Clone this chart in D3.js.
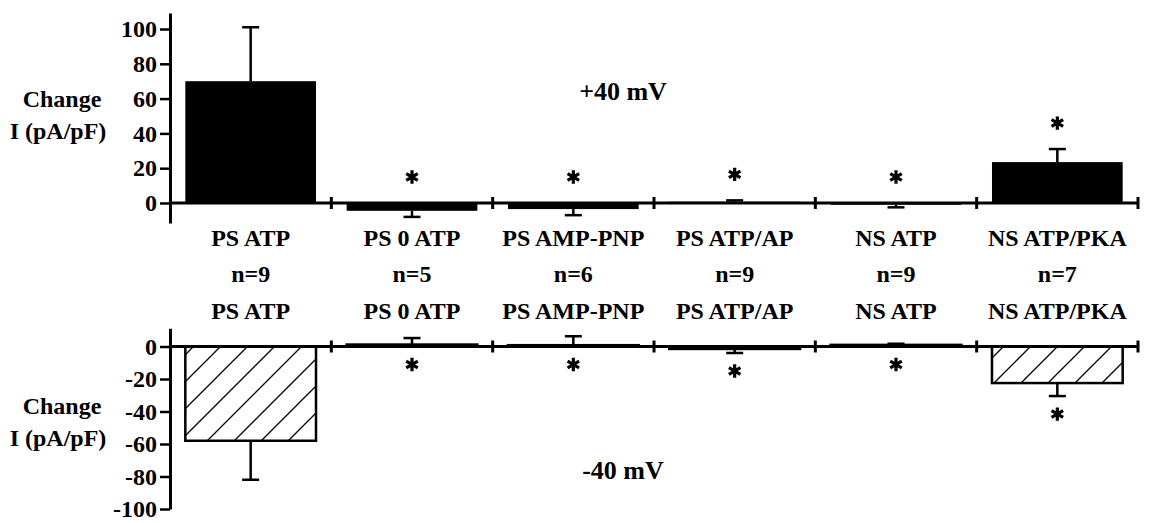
<!DOCTYPE html>
<html>
<head>
<meta charset="utf-8">
<script src="https://cdn.jsdelivr.net/npm/d3@7"></script>
<style>
  body { margin: 0; background: #fff; }
  svg text {
    font-family: "Liberation Serif", "Times New Roman", serif;
    font-weight: bold;
    font-size: 24px;
    fill: #000;
  }
  svg text.volt { font-size: 26px; }
</style>
</head>
<body>
<svg id="chart" width="1162" height="523"></svg>
<script>
// categories shared by both panels, and the n for each
const categories = ["PS ATP", "PS 0 ATP", "PS AMP-PNP", "PS ATP/AP", "NS ATP", "NS ATP/PKA"];
const nLabels = ["n=9", "n=5", "n=6", "n=9", "n=9", "n=7"];

// +40 mV panel: mean change and error (pA/pF)
const posMeans = [70, -4.5, -3.5, 0.7, -1, 23.5];
const posErrors = [31, 3.5, 3.5, 0.8, 1.5, 7.5];
const posStars = [false, true, true, true, true, true];
const posTicks = [0, 20, 40, 60, 80, 100];

// -40 mV panel
const negMeans = [-58, 1.2, 0.8, -1.5, 1, -22.5];
const negErrors = [24, 4, 5.5, 2.5, 0.7, 8];
const negStars = [false, true, true, true, true, true];
const negTicks = [0, -20, -40, -60, -80, -100];

const svg = d3.select("#chart");
svg.append("rect").attr("width", 1162).attr("height", 523).attr("fill", "#fff");

// hatch for the -40 mV bars
svg.append("defs").append("pattern")
  .attr("id", "hatch")
  .attr("patternUnits", "userSpaceOnUse")
  .attr("width", 27).attr("height", 27)
  .append("path")
  .attr("d", "M-7,7L7,-7M0,27L27,0M20,34L34,20")
  .attr("stroke", "#000")
  .attr("stroke-width", 1.3);

const x = d3.scaleBand()
  .domain(categories)
  .range([170, 1138])
  .paddingInner(0.19)
  .paddingOuter(0.095);

/**
 * draws one panel: axes, bars, error bars, stars and titles
 */
function drawPanel(p) {
  const g = svg.append("g");
  const y = d3.scaleLinear().domain(p.domain).range(p.range);
  const y0 = y(0);
  const rows = categories.map((c, i) => ({
    cat: c, mean: p.means[i], err: p.errors[i], star: p.stars[i]
  }));

  // bars
  g.selectAll("rect.bar").data(rows).join("rect")
    .attr("class", "bar")
    .attr("x", d => x(d.cat))
    .attr("width", x.bandwidth())
    .attr("y", d => Math.min(y(d.mean), y0))
    .attr("height", d => Math.abs(y(d.mean) - y0))
    .attr("fill", p.fill)
    .attr("stroke", p.outline ? "#000" : "none")
    .attr("stroke-width", 2.5);

  // error bars point away from zero
  const tip = d => d.mean + Math.sign(d.mean) * d.err;
  const cx = d => x(d.cat) + x.bandwidth() / 2;
  g.selectAll("line.err").data(rows).join("line")
    .attr("x1", cx).attr("x2", cx)
    .attr("y1", d => y(d.mean)).attr("y2", d => y(tip(d)))
    .attr("stroke", "#000").attr("stroke-width", 2.5);
  g.selectAll("line.cap").data(rows).join("line")
    .attr("x1", d => cx(d) - 8.5).attr("x2", d => cx(d) + 8.5)
    .attr("y1", d => y(tip(d))).attr("y2", d => y(tip(d)))
    .attr("stroke", "#000").attr("stroke-width", 2.5);

  // significance stars
  const star = d3.symbol(d3.symbolAsterisk, 125);
  g.selectAll("path.star").data(rows.filter(d => d.star)).join("path")
    .attr("d", star)
    .attr("transform", d => {
      const sy = p.up ? y(Math.max(tip(d), 0)) - 26 : y(Math.min(tip(d), 0)) + 18;
      return `translate(${cx(d)},${sy})`;
    })
    .attr("fill", "none").attr("stroke", "#000").attr("stroke-width", 3.2);

  // y axis
  const ax = g.append("g")
    .attr("transform", "translate(170,0)")
    .call(d3.axisLeft(y).tickValues(p.ticks).tickFormat(d => String(d))
      .tickSize(10).tickSizeOuter(0).tickPadding(3));
  ax.attr("font-family", null).attr("font-size", null);
  ax.select(".domain").attr("stroke-width", 3);
  ax.selectAll(".tick line").attr("stroke-width", 2.5);

  // x axis line with category dividers
  g.append("line")
    .attr("x1", 170).attr("x2", x.range()[1])
    .attr("y1", y0).attr("y2", y0)
    .attr("stroke", "#000").attr("stroke-width", 3);
  const dividers = d3.range(1, categories.length + 1).map(i => x.range()[0] + i * x.step());
  g.selectAll("line.div").data(dividers).join("line")
    .attr("x1", d => d).attr("x2", d => d)
    .attr("y1", y0 - 6).attr("y2", y0 + 6)
    .attr("stroke", "#000").attr("stroke-width", 3);

  // axis title and voltage label
  g.append("text").attr("x", 62).attr("y", p.titleY).attr("text-anchor", "middle").text("Change");
  g.append("text").attr("x", 58).attr("y", p.titleY + 32).attr("text-anchor", "middle").text("I (pA/pF)");
  g.append("text").attr("class", "volt").attr("x", 623).attr("y", p.voltY)
    .attr("text-anchor", "middle").text(p.volt);

  return y;
}

drawPanel({
  domain: [-11.5, 109.2], range: [223, 13],
  means: posMeans, errors: posErrors, stars: posStars, ticks: posTicks,
  fill: "#000", outline: false, up: true,
  titleY: 107, voltY: 100, volt: "+40 mV"
});

drawPanel({
  domain: [-100, 11.2], range: [509, 328.3],
  means: negMeans, errors: negErrors, stars: negStars, ticks: negTicks,
  fill: "url(#hatch)", outline: true, up: false,
  titleY: 414, voltY: 479, volt: "-40 mV"
});

// category names above and below the n row
const mid = c => x(c) + x.bandwidth() / 2;
[246, 319].forEach(yy => {
  svg.append("g").selectAll("text").data(categories).join("text")
    .attr("x", mid).attr("y", yy)
    .attr("text-anchor", "middle")
    .text(d => d);
});
svg.append("g").selectAll("text").data(nLabels).join("text")
  .attr("x", (d, i) => mid(categories[i])).attr("y", 282)
  .attr("text-anchor", "middle")
  .text(d => d);
</script>
</body>
</html>
